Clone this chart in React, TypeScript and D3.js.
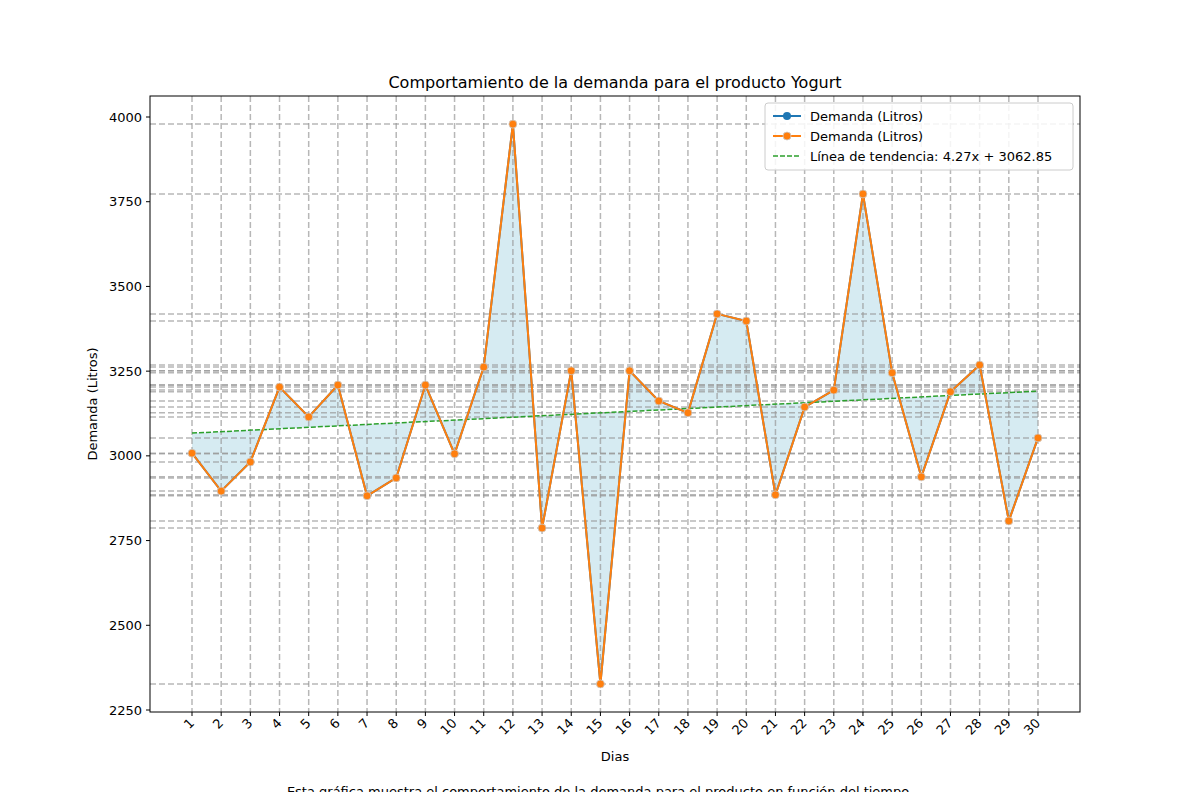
import React from 'react';
import * as d3 from 'd3';

const days = d3.range(1, 31);
const demand = [3008, 2896, 2982, 3203, 3115, 3209, 2882, 2935, 3209, 3006, 3262, 3979, 2787, 3251, 2327, 3251, 3162, 3127, 3419, 3398, 2885, 3144, 3194, 3773, 3245, 2938, 3189, 3268, 2808, 3053];
const yTicks = [2250, 2500, 2750, 3000, 3250, 3500, 3750, 4000];
const slope = 4.27;
const intercept = 3062.85;

const W = 1200, H = 800;
const m = { left: 150, right: 1080, top: 96, bottom: 712 };

const App = () => {
  const x = d3.scaleLinear().domain([1 - 1.44, 30 + 1.44]).range([m.left, m.right]);
  const y = d3.scaleLinear().domain([2250, 4000]).range([710, 117]);
  const trend = (d: number) => slope * d + intercept;
  const pts = days.map((d, i) => ({ d, v: demand[i] }));
  const line = d3.line<{ d: number; v: number }>().x((p) => x(p.d)).y((p) => y(p.v));
  const area = d3.area<{ d: number; v: number }>().x((p) => x(p.d)).y0((p) => y(trend(p.d))).y1((p) => y(p.v));
  const font = 'DejaVu Sans, sans-serif';
  return (
    <svg width={W} height={H} style={{ display: 'block', margin: -8 }} fontFamily={font}>
      <rect width={W} height={H} fill="#fff" />
      <text x={615} y={88} textAnchor="middle" fontSize={16}>Comportamiento de la demanda para el producto Yogurt</text>
      <path d={area(pts)!} fill="lightblue" fillOpacity={0.5} />
      {days.map((d) => (
        <line key={'v' + d} x1={x(d)} x2={x(d)} y1={m.top} y2={m.bottom} stroke="#999" strokeOpacity={0.7} strokeDasharray="6,3" strokeWidth={1.5} />
      ))}
      {demand.map((v, i) => (
        <line key={'h' + i} x1={m.left} x2={m.right} y1={y(v)} y2={y(v)} stroke="#999" strokeOpacity={0.7} strokeDasharray="6,3" strokeWidth={1.5} />
      ))}
      <line x1={x(1)} x2={x(30)} y1={y(trend(1))} y2={y(trend(30))} stroke="#2ca02c" strokeWidth={1.5} strokeDasharray="5,2" />
      <path d={line(pts)!} fill="none" stroke="#1f77b4" strokeWidth={2} />
      <path d={line(pts)!} fill="none" stroke="#ff7f0e" strokeWidth={2} />
      {pts.map((p) => (
        <circle key={p.d} cx={x(p.d)} cy={y(p.v)} r={4} fill="#ff7f0e" stroke="#ccc" strokeWidth={0.8} />
      ))}
      <rect x={m.left} y={m.top} width={m.right - m.left} height={m.bottom - m.top} fill="none" stroke="#000" />
      {yTicks.map((t) => (
        <g key={t} transform={`translate(${m.left},${y(t)})`}>
          <line x2={-4} stroke="#000" />
          <text x={-8} dy="0.35em" textAnchor="end" fontSize={13}>{t}</text>
        </g>
      ))}
      {days.map((d) => (
        <g key={'t' + d} transform={`translate(${x(d)},${m.bottom})`}>
          <line y2={4} stroke="#000" />
          <text transform="translate(3,12) rotate(-45)" textAnchor="end" fontSize={13}>{d}</text>
        </g>
      ))}
      <text x={615} y={761} textAnchor="middle" fontSize={13}>Dias</text>
      <text transform={`translate(97,404) rotate(-90)`} textAnchor="middle" fontSize={13}>Demanda (Litros)</text>
      <text x={600} y={796} textAnchor="middle" fontSize={13}>Esta gráfica muestra el comportamiento de la demanda para el producto en función del tiempo.</text>
      <g transform="translate(765,103)">
        <rect width={308} height={67} rx={3} fill="#fff" fillOpacity={0.85} stroke="#ccc" />
        <line x1={8} x2={36} y1={13} y2={13} stroke="#1f77b4" strokeWidth={2} />
        <circle cx={22} cy={13} r={4} fill="#1f77b4" />
        <text x={45} y={17.5} fontSize={13}>Demanda (Litros)</text>
        <line x1={8} x2={36} y1={33} y2={33} stroke="#ff7f0e" strokeWidth={2} />
        <circle cx={22} cy={33} r={4} fill="#ff7f0e" stroke="#ccc" strokeWidth={0.8} />
        <text x={45} y={37.5} fontSize={13}>Demanda (Litros)</text>
        <line x1={8} x2={36} y1={53} y2={53} stroke="#2ca02c" strokeWidth={1.5} strokeDasharray="5,2" />
        <text x={45} y={57.5} fontSize={13}>Línea de tendencia: 4.27x + 3062.85</text>
      </g>
    </svg>
  );
};

export default App;
